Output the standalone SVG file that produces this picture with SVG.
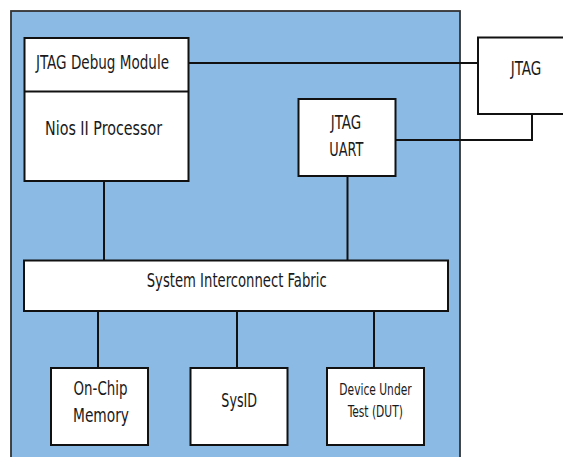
<svg xmlns="http://www.w3.org/2000/svg" width="563" height="457" viewBox="0 0 563 457">
<style>
.box{fill:#ffffff;stroke:#111111;stroke-width:2}
.bg{fill:#8bbae4;stroke:#333333;stroke-width:1.8}
.ln{fill:none;stroke:#111111;stroke-width:2}
text{font-family:"Liberation Sans Narrow","DejaVu Sans Condensed","Liberation Sans",sans-serif;font-size:19px;fill:#1a1a1a;text-anchor:middle}
.sm{font-size:16px}
</style>
<rect width="563" height="457" fill="#ffffff"/>
<g id="fpga"><rect class="bg" x="11" y="11" width="449" height="460"/></g>
<g id="connectors">
<line class="ln" x1="188.5" y1="63" x2="478" y2="63"/>
<polyline class="ln" points="395,140 532,140 532,114"/>
<line class="ln" x1="104" y1="181" x2="104" y2="260"/>
<line class="ln" x1="347.5" y1="176" x2="347.5" y2="260"/>
<line class="ln" x1="98" y1="311" x2="98" y2="368"/>
<line class="ln" x1="237" y1="311" x2="237" y2="368"/>
<line class="ln" x1="374" y1="311" x2="374" y2="368"/>
</g>
<g id="nios">
<rect class="box" x="24.5" y="38" width="164" height="143"/>
<line class="ln" x1="24.5" y1="91.5" x2="188.5" y2="91.5"/>
<text x="102.5" y="69" textLength="133" lengthAdjust="spacingAndGlyphs">JTAG Debug Module</text>
<text x="103.5" y="135" textLength="117" lengthAdjust="spacingAndGlyphs">Nios II Processor</text>
</g>
<g id="jtag">
<rect class="box" x="478" y="37.5" width="100" height="76.5"/>
<text x="526" y="75" textLength="30.6" lengthAdjust="spacingAndGlyphs">JTAG</text>
</g>
<g id="jtag-uart">
<rect class="box" x="298.5" y="99" width="97" height="77"/>
<text x="346" y="129" textLength="30.3" lengthAdjust="spacingAndGlyphs">JTAG</text>
<text x="346.3" y="155.7" textLength="34" lengthAdjust="spacingAndGlyphs">UART</text>
</g>
<g id="fabric">
<rect class="box" x="24" y="260.5" width="424" height="50.5"/>
<text x="236.7" y="286.5" textLength="180" lengthAdjust="spacingAndGlyphs">System Interconnect Fabric</text>
</g>
<g id="onchip">
<rect class="box" x="51" y="368" width="97" height="77"/>
<text x="100.5" y="395" textLength="54" lengthAdjust="spacingAndGlyphs">On-Chip</text>
<text x="101" y="421.5" textLength="56" lengthAdjust="spacingAndGlyphs">Memory</text>
</g>
<g id="sysid">
<rect class="box" x="190.5" y="368" width="97" height="77"/>
<text x="239.2" y="406.7" textLength="35.7" lengthAdjust="spacingAndGlyphs">SysID</text>
</g>
<g id="dut">
<rect class="box" x="327" y="368" width="97" height="77"/>
<text class="sm" x="375.5" y="395" textLength="72.3" lengthAdjust="spacingAndGlyphs">Device Under</text>
<text class="sm" x="375.3" y="416.7" textLength="55.3" lengthAdjust="spacingAndGlyphs">Test (DUT)</text>
</g>
</svg>
